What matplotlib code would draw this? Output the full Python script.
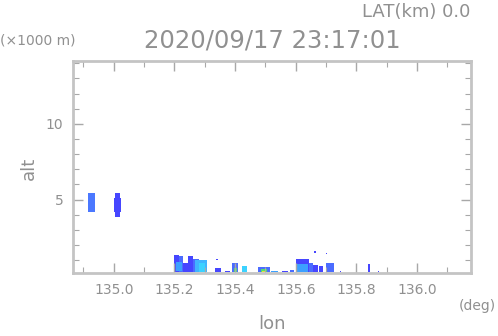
import matplotlib
matplotlib.use('Agg')
import matplotlib.pyplot as plt
from matplotlib.ticker import MultipleLocator

# echo cells: left/right lon (deg), bottom/top alt (x1000 m), colour
lonL = [134.916, 135.003, 134.999,
        135.200, 135.215, 135.205, 135.229, 135.246, 135.262, 135.268, 135.280,
        135.336, 135.333, 135.368, 135.391, 135.395, 135.424, 135.474, 135.485,
        135.490, 135.517, 135.556, 135.580, 135.599, 135.605, 135.642, 135.655,
        135.660, 135.675, 135.698, 135.698, 135.745, 135.837, 135.870]
lonR = [134.938, 135.020, 135.023,
        135.215, 135.229, 135.225, 135.246, 135.262, 135.280, 135.308, 135.300,
        135.343, 135.352, 135.384, 135.411, 135.405, 135.440, 135.516, 135.505,
        135.500, 135.540, 135.573, 135.595, 135.642, 135.640, 135.655, 135.672,
        135.666, 135.690, 135.702, 135.725, 135.750, 135.844, 135.874]
altB = [4.19, 3.87, 4.20,
        0.2, 0.2, 0.3, 0.2, 0.2, 0.2, 0.2, 0.2,
        1.0, 0.2, 0.2, 0.2, 0.2, 0.2, 0.2, 0.2,
        0.2, 0.2, 0.2, 0.2, 0.2, 0.2, 0.2, 0.2,
        1.45, 0.2, 1.38, 0.2, 0.2, 0.2, 0.2]
altT = [5.41, 5.41, 5.10,
        1.37, 1.30, 0.90, 0.84, 1.26, 1.10, 1.00, 0.80,
        1.10, 0.45, 0.30, 0.84, 0.50, 0.64, 0.53, 0.40,
        0.30, 0.31, 0.30, 0.35, 1.10, 0.75, 0.84, 0.70,
        1.60, 0.64, 1.50, 0.82, 0.30, 0.77, 0.28]
cols = ['#4b78ff', '#4646ff', '#4646ff',
        '#4646ff', '#4b6cff', '#3ca0ff', '#4646ff', '#4646ff', '#4b6cff', '#40b4ff', '#3cd2ff',
        '#4646ff', '#4646ff', '#4646ff', '#4b6cff', '#50e070', '#3cd2ff', '#4b6cff', '#50e070',
        '#e0e040', '#3ca0ff', '#4646ff', '#4b6cff', '#4646ff', '#3ca0ff', '#4b6cff', '#4646ff',
        '#4646ff', '#4646ff', '#4646ff', '#4b6cff', '#4646ff', '#4646ff', '#4646ff']

xticks = [135.0, 135.2, 135.4, 135.6, 135.8, 136.0]
yticks = [5, 10]

grey = '#909090'
spine = '#c4c4c4'

fig = plt.figure(figsize=(4.98, 3.36), dpi=100)
ax = fig.add_axes([0.1466, 0.1875, 0.7992, 0.631])

width = [r - l for l, r in zip(lonL, lonR)]
height = [t - b for b, t in zip(altB, altT)]
ax.bar(lonL, height, width=width, bottom=altB, align='edge', color=cols,
       linewidth=0)

ax.set_xlim(134.8655, 136.1775)
ax.set_ylim(0.15, 14.15)
ax.set_xticks(xticks)
ax.set_xticklabels(['%.1f' % v for v in xticks])
ax.set_yticks(yticks)
ax.xaxis.set_minor_locator(MultipleLocator(0.1))
ax.yaxis.set_minor_locator(MultipleLocator(1))

for s in ax.spines.values():
    s.set_color(spine)
    s.set_linewidth(2)
ax.tick_params(which='both', direction='in', top=True, right=True,
               colors='#a8a8a8', labelcolor=grey, labelsize=10, pad=7)
ax.tick_params(which='major', length=7, width=1)
ax.tick_params(which='minor', length=4, width=0.8)

fig.text(0.945, 0.965, 'LAT(km) 0.0', ha='right', va='center',
         fontsize=13, color=grey)
fig.text(0.546, 0.88, '2020/09/17 23:17:01', ha='center', va='center',
         fontsize=17.5, color=grey)
fig.text(0.0, 0.88, '(\u00d71000 m)', ha='left', va='center',
         fontsize=10, color=grey)
fig.text(0.995, 0.09, '(deg)', ha='right', va='center', fontsize=10, color=grey)
fig.text(0.546, 0.035, 'lon', ha='center', va='center', fontsize=13, color=grey)
fig.text(0.058, 0.50, 'alt', ha='center', va='center', rotation=90,
         fontsize=13, color=grey)

fig.savefig('out.png', dpi=100)
